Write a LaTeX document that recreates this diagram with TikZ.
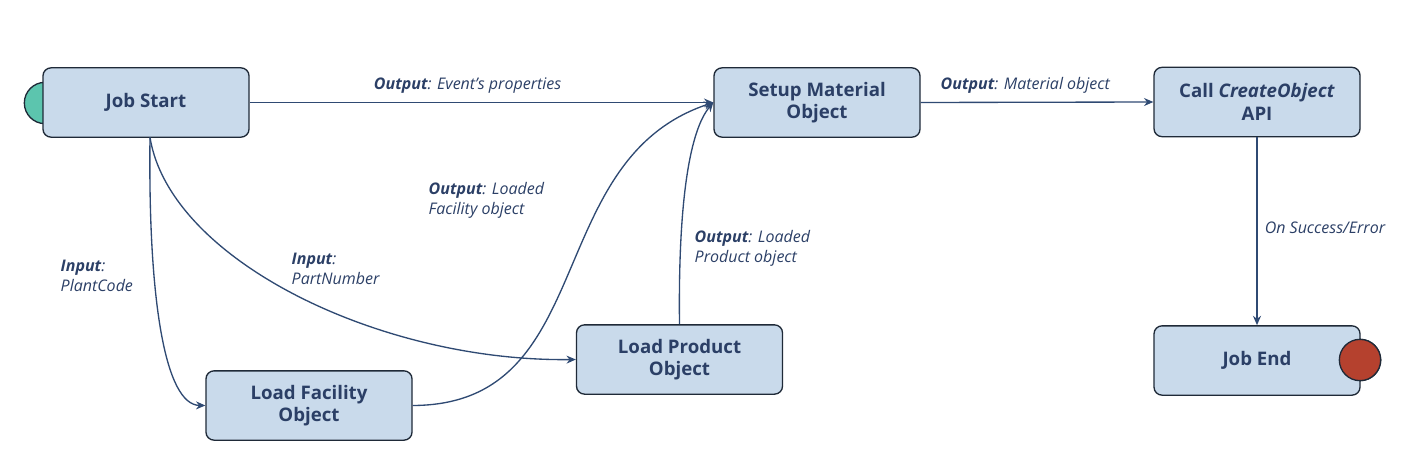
\documentclass[tikz,border=0pt]{standalone}
\usepackage{fontspec}
\setmainfont{Open Sans}
\usetikzlibrary{arrows.meta}
\definecolor{boxfill}{HTML}{C9DAEB}
\definecolor{boxdraw}{HTML}{1F2A38}
\definecolor{txt}{HTML}{2B3F66}
\definecolor{lnk}{HTML}{2F4A73}
\definecolor{startc}{HTML}{5CC5AE}
\definecolor{endc}{HTML}{B5412E}
\begin{document}
\begin{tikzpicture}[x=0.75pt,y=-0.75pt,
  box/.style={draw=boxdraw,fill=boxfill,rounded corners=6pt,line width=1pt,minimum width=154.5pt,minimum height=52pt,align=center,font=\bfseries\fontsize{14}{17}\selectfont,text=txt},
  conn/.style={draw=lnk,line width=1pt,-{Stealth[length=7pt,width=6pt]}},
  lbl/.style={text=txt,font=\itshape\fontsize{12}{15}\selectfont,align=left},
  dot/.style={circle,draw=boxdraw,line width=1pt,minimum size=31pt,inner sep=0pt}]
\useasboundingbox (0,0) rectangle (1428,467);
\node[dot,fill=startc] (s) at (45,103) {};
\node[box] (js) at (146,102.5) {Job Start};
\node[dot,fill=endc] (e) at (1360,360) {};
\node[box] (sm) at (817,102.5) {Setup Material\\Object};
\node[box] (co) at (1257,102) {Call \textit{CreateObject}\\API};
\node[box] (lf) at (309,405.5) {Load Facility\\Object};
\node[box] (lp) at (679.5,359.5) {Load Product\\Object};
\node[box] (je) at (1257,360.5) {Job End};
\node[dot,fill=endc] at (1360,360) {};
\draw[conn] (js.east) -- (sm.west) node[lbl,pos=0.47,above=3pt] {\textbf{Output}: Event's properties};
\draw[conn] (sm.east) -- (co.west) node[lbl,pos=0.45,above=3pt] {\textbf{Output}: Material object};
\draw[conn] (co.south) -- (je.north) node[lbl,pos=0.48,right=2pt] {On Success/Error};
\coordinate (jsb) at (150,137.5);
\draw[conn] (jsb) .. controls (148,300) and (165,405) .. (lf.west);
\draw[conn] (jsb) .. controls (170,260) and (380,362) .. (lp.west);
\draw[conn] (lf.east) .. controls (600,405) and (540,160) .. (sm.west);
\draw[conn] (lp.north) .. controls (678,200) and (690,130) .. (sm.west);
\node[lbl,anchor=north west] (l1) at (56,255) {\textbf{Input}:\\PlantCode};
\node[lbl,anchor=north west] (l2) at (287,248) {\textbf{Input}:\\PartNumber};
\node[lbl,anchor=north west] (l3) at (424,178) {\textbf{Output}: Loaded\\Facility object};
\node[lbl,anchor=north west] (l4) at (690,226) {\textbf{Output}: Loaded\\Product object};
\end{tikzpicture}
\end{document}
